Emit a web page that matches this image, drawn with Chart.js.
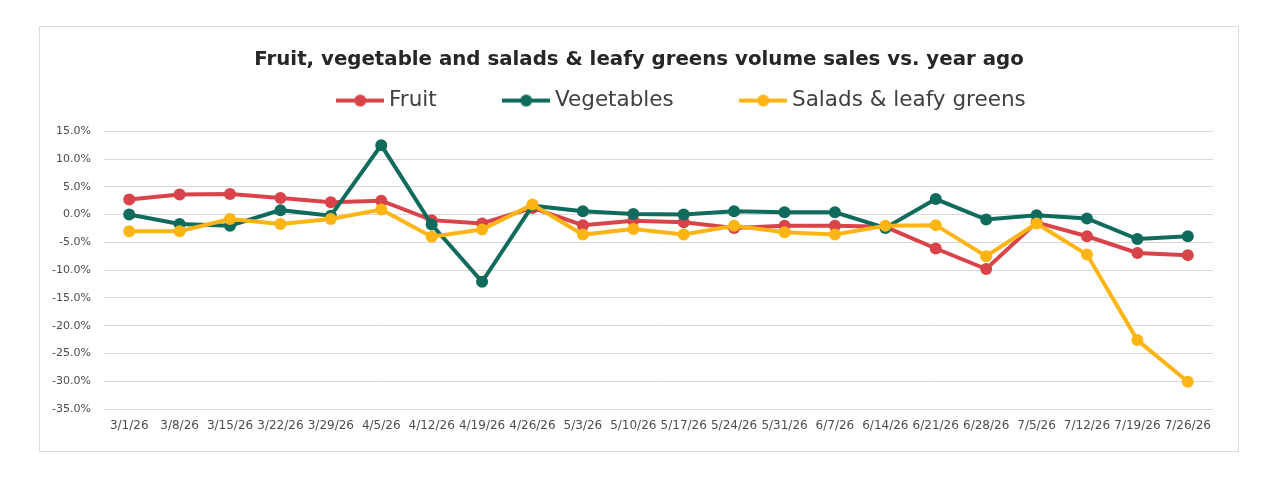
<!DOCTYPE html>
<html>
<head>
<meta charset="utf-8">
<script src="https://cdn.jsdelivr.net/npm/chart.js@4.4.1/dist/chart.umd.min.js"></script>
<style>
    body { margin: 0; background: #fff; }
    #frame {
        position: absolute; left: 39px; top: 26px;
        width: 1198px; height: 424px;
        border: 1px solid #dcdcdc;
    }
</style>
</head>
<body>
<div id="frame"><canvas id="salesChart"></canvas></div>
<script>
const weeks = ['3/1/26', '3/8/26', '3/15/26', '3/22/26', '3/29/26', '4/5/26', '4/12/26', '4/19/26',
    '4/26/26', '5/3/26', '5/10/26', '5/17/26', '5/24/26', '5/31/26', '6/7/26', '6/14/26',
    '6/21/26', '6/28/26', '7/5/26', '7/12/26', '7/19/26', '7/26/26'];

const fruit = [2.7, 3.6, 3.7, 3.0, 2.2, 2.5, -1.0, -1.6, 1.2, -1.9, -1.1, -1.4, -2.4, -2.0, -2.0, -2.2,
    -6.1, -9.8, -1.4, -3.9, -6.9, -7.3];
const vegetables = [0.0, -1.7, -2.0, 0.8, -0.2, 12.5, -1.8, -12.1, 1.6, 0.6, 0.1, 0.0, 0.6, 0.4, 0.4, -2.4,
    2.8, -0.9, -0.1, -0.7, -4.4, -3.9];
const salads = [-3.0, -3.0, -0.8, -1.7, -0.8, 0.9, -4.0, -2.7, 1.8, -3.6, -2.6, -3.6, -2.0, -3.2, -3.6, -2.0,
    -1.9, -7.5, -1.6, -7.2, -22.6, -30.1];

const RED = '#d9434a';
const GREEN = '#0f6b5c';
const YELLOW = '#fdb515';
const FONT = 'DejaVu Sans, Verdana, sans-serif';

// legend symbol: line with a dot in the middle, like Excel
function legendSymbol(color) {
    const c = document.createElement('canvas');
    c.width = 48; c.height = 14;
    const g = c.getContext('2d');
    g.strokeStyle = color;
    g.lineWidth = 4;
    g.beginPath(); g.moveTo(0, 7); g.lineTo(48, 7); g.stroke();
    g.fillStyle = color;
    g.beginPath(); g.arc(24, 7, 6, 0, Math.PI * 2); g.fill();
    return c;
}

// a bit more room under the legend, and move the row to the right like the original
const legendTweak = {
    id: 'legendTweak',
    afterInit(chart) {
        const lg = chart.legend;
        const fit = lg.fit;
        lg.fit = function () {
            fit.call(this);
            this.height += 10;
            if (this.lineWidths && this.lineWidths.length) this.lineWidths[0] -= 90;
        };
    }
};

function series(label, data, color, order) {
    return {
        label: label,
        data: data,
        borderColor: color,
        backgroundColor: color,
        borderWidth: 4,
        pointRadius: 6,
        pointHoverRadius: 6,
        pointBorderWidth: 0,
        tension: 0,
        order: order
    };
}

const ctx = document.getElementById('salesChart').getContext('2d');
new Chart(ctx, {
    type: 'line',
    data: {
        labels: weeks,
        datasets: [
            series('Fruit', fruit, RED, 3),
            series('Vegetables', vegetables, GREEN, 2),
            series('Salads & leafy greens', salads, YELLOW, 1)
        ]
    },
    plugins: [legendTweak],
    options: {
        responsive: true,
        maintainAspectRatio: false,
        animation: false,
        layout: { padding: { left: 0, right: 0, top: 0, bottom: 12 } },
        plugins: {
            title: {
                display: true,
                text: 'Fruit, vegetable and salads & leafy greens volume sales vs. year ago',
                color: '#262626',
                font: { family: FONT, size: 19.8, weight: 'bold' },
                padding: { top: 21, bottom: 8 }
            },
            legend: {
                labels: {
                    usePointStyle: true,
                    pointStyleWidth: 36,
                    color: '#404040',
                    font: { family: FONT, size: 21.5 },
                    padding: 10,
                    generateLabels: chart => chart.data.datasets.map((ds, i, all) => ({
                        text: i < all.length - 1 ? ds.label + '         ' : ds.label,
                        pointStyle: legendSymbol(ds.borderColor),
                        fillStyle: ds.borderColor,
                        strokeStyle: ds.borderColor,
                        fontColor: '#404040',
                        lineWidth: 0,
                        datasetIndex: i
                    }))
                }
            },
            tooltip: { enabled: false }
        },
        scales: {
            x: {
                offset: true,
                grid: { display: false },
                border: { display: false },
                ticks: {
                    color: '#4d4d4d',
                    autoSkip: false,
                    maxRotation: 0,
                    padding: 2,
                    font: { family: FONT, size: 12 }
                },
                afterFit: scale => { scale.height = 30; }
            },
            y: {
                min: -35,
                max: 15,
                grid: { color: '#d9d9d9', lineWidth: 1, drawTicks: false },
                border: { display: false },
                ticks: {
                    stepSize: 5,
                    color: '#4d4d4d',
                    padding: 13,
                    font: { family: FONT, size: 11 },
                    callback: v => v.toFixed(1) + '%'
                },
                afterFit: scale => { scale.width = 64; }
            },
            // empty strip on the right so title and legend stay centred on the whole frame
            yRight: {
                position: 'right',
                grid: { display: false },
                border: { display: false },
                ticks: { display: false },
                afterFit: scale => { scale.width = 25; }
            }
        }
    }
});
</script>
</body>
</html>
